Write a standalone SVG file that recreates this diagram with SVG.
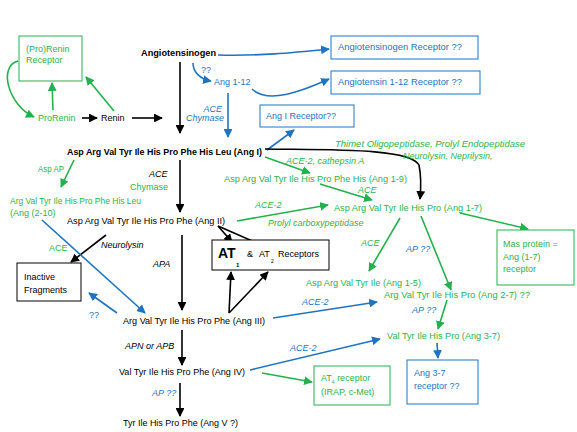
<svg xmlns="http://www.w3.org/2000/svg" width="577" height="432" viewBox="0 0 577 432">
<defs>
<marker id="ak" viewBox="0 0 10 10" refX="9" refY="5" markerWidth="5.5" markerHeight="5.5" orient="auto-start-reverse"><path d="M0,0 L10,5 L0,10 z" fill="#000"/></marker>
<marker id="ab" viewBox="0 0 10 10" refX="9" refY="5" markerWidth="5.5" markerHeight="5.5" orient="auto-start-reverse"><path d="M0,0 L10,5 L0,10 z" fill="#1f74c2"/></marker>
<marker id="ag" viewBox="0 0 10 10" refX="9" refY="5" markerWidth="5.5" markerHeight="5.5" orient="auto-start-reverse"><path d="M0,0 L10,5 L0,10 z" fill="#22b14c"/></marker>
</defs>
<style>
text{font-family:"Liberation Sans",Arial,sans-serif;font-size:9px}
.k{fill:#000}.b{fill:#1f74c2}.g{fill:#2db34a}
.i{font-style:italic}.bd{font-weight:bold}
.big{font-size:14px}.s6{font-size:6px}.s5{font-size:5px}
.lk{stroke:#000;stroke-width:1.6;fill:none;marker-end:url(#ak)}
.lb{stroke:#1f74c2;stroke-width:1.6;fill:none;marker-end:url(#ab)}
.lg{stroke:#22b14c;stroke-width:1.6;fill:none;marker-end:url(#ag)}
.bxk{fill:#fff;stroke:#000;stroke-width:1}
.bxb{fill:#fff;stroke:#1f74c2;stroke-width:1}
.bxg{fill:#fff;stroke:#22b14c;stroke-width:1}
</style>
<rect width="577" height="432" fill="#fff"/>

<g id="connectors">
<path class="lg" d="M18,61 C-2,66 8,105 34,117"/>
<path class="lg" d="M53,110 L52,83"/>
<path class="lg" d="M114,111 L86,77"/>
<path class="lk" d="M82,118 L97,118"/>
<path class="lk" d="M132,118 L162,118"/>
<path class="lk" d="M180,62 L180,133"/>
<path class="lb" d="M218,55 C260,56 290,53 329,49"/>
<path class="lb" d="M193,63 C193,72 200,79 211,81"/>
<path class="lb" d="M252,89 C268,104 300,92 329,79"/>
<path class="lb" d="M228,93 L228,137"/>
<path class="lb" d="M267,150 L294,130"/>
<path class="lk" d="M265,149 C330,150 410,148 419,165 C421,175 421,188 420,199"/>
<path class="lg" d="M265,157 L310,173"/>
<path class="lg" d="M320,184 L372,200"/>
<path class="lg" d="M237,221 L328,205"/>
<path class="lg" d="M460,213 L528,229"/>
<path class="lg" d="M400,218 L369,271"/>
<path class="lg" d="M421,216 L451,290"/>
<path class="lg" d="M447,300 L438,329"/>
<path class="lb" d="M437,343 L438,358"/>
<path class="lg" d="M262,373 L312,382"/>
<path class="lb" d="M250,370 L380,339"/>
<path class="lb" d="M273,318 L377,302"/>
<path class="lk" d="M180,160 L180,212"/>
<path class="lk" d="M182,235 L182,310"/>
<path class="lk" d="M106,235 L71,262"/>
<path class="lg" d="M74,160 L61,187"/>
<path class="lb" d="M42,220 L145,313"/>
<path class="lb" d="M117,313 L89,293"/>
<path class="lk" d="M218,226 L232,242"/>
<path class="lk" d="M218,226 L266,247"/>
<path class="lk" d="M229,313 L231,272"/>
<path class="lk" d="M229,313 L268,272"/>
<path class="lk" d="M182,330 L182,365"/>
<path class="lk" d="M180,383 L180,416"/>
</g>

<g id="prorenin-receptor"><rect class="bxg" x="19" y="36" width="63" height="45"/><text class="g" x="26" y="52">(Pro)Renin</text><text class="g" x="26" y="63">Receptor</text></g>
<g id="prorenin"><text class="g" x="38" y="121">ProRenin</text></g>
<g id="renin"><text class="k" x="101" y="121">Renin</text></g>
<g id="angiotensinogen"><text class="k bd" x="141" y="56" textLength="75" lengthAdjust="spacingAndGlyphs">Angiotensinogen</text></g>
<g id="aogen-receptor"><rect class="bxb" x="331" y="36" width="147" height="23"/><text class="b" x="338" y="50" textLength="124" lengthAdjust="spacingAndGlyphs">Angiotensinogen Receptor ??</text></g>
<g id="ang112"><text class="b" x="214" y="85">Ang 1-12</text></g>
<g id="ang112-receptor"><rect class="bxb" x="331" y="71" width="149" height="23"/><text class="b" x="338" y="85" textLength="124" lengthAdjust="spacingAndGlyphs">Angiotensin 1-12 Receptor ??</text></g>
<g id="angI-receptor"><rect class="bxb" x="260" y="105" width="94" height="22"/><text class="b" x="266" y="119">Ang I Receptor??</text></g>
<g id="angI"><text class="k bd" x="67" y="155" textLength="195" lengthAdjust="spacingAndGlyphs">Asp Arg Val Tyr Ile His Pro Phe  His Leu (Ang I)</text></g>
<g id="ang19"><text class="g" x="224" y="182" textLength="183" lengthAdjust="spacingAndGlyphs">Asp Arg Val Tyr Ile His Pro Phe His (Ang 1-9)</text></g>
<g id="ang17"><text class="g" x="334" y="211" textLength="148" lengthAdjust="spacingAndGlyphs">Asp Arg Val Tyr Ile His Pro (Ang 1-7)</text></g>
<g id="mas"><rect class="bxg" x="497" y="230" width="77" height="55"/><text class="g" x="503" y="247">Mas protein =</text><text class="g" x="503" y="260">Ang (1-7)</text><text class="g" x="503" y="272">receptor</text></g>
<g id="ang15"><text class="g" x="306" y="286" textLength="115" lengthAdjust="spacingAndGlyphs">Asp Arg Val Tyr Ile (Ang 1-5)</text></g>
<g id="ang27"><text class="g" x="384" y="298" textLength="146" lengthAdjust="spacingAndGlyphs">Arg Val Tyr Ile His Pro (Ang 2-7) ??</text></g>
<g id="ang37"><text class="g" x="387" y="339" textLength="113" lengthAdjust="spacingAndGlyphs">Val Tyr Ile His Pro (Ang 3-7)</text></g>
<g id="ang37-receptor"><rect class="bxb" x="407" y="360" width="71" height="44"/><text class="b" x="414" y="376">Ang 3-7</text><text class="b" x="414" y="389">receptor ??</text></g>
<g id="at4"><rect class="bxg" x="314" y="366" width="76" height="39"/><text class="g" x="321" y="381">AT<tspan class="s5" dy="3">4</tspan><tspan dy="-3"> receptor</tspan></text><text class="g" x="321" y="395">(IRAP, c-Met)</text></g>
<g id="angII"><text class="k" x="67" y="224" textLength="158" lengthAdjust="spacingAndGlyphs">Asp Arg Val Tyr Ile His Pro Phe (Ang II)</text></g>
<g id="ang210"><text class="g" x="10" y="204" textLength="131" lengthAdjust="spacingAndGlyphs">Arg Val Tyr Ile His Pro Phe His Leu</text><text class="g" x="10" y="216">(Ang (2-10)</text></g>
<g id="inactive"><rect class="bxk" x="17" y="263" width="64" height="38"/><text class="k" x="24" y="280">Inactive</text><text class="k" x="24" y="293">Fragments</text></g>
<g id="at-receptors"><rect class="bxk" x="212" y="240" width="117" height="30"/><text class="k bd big" x="218" y="258">AT</text><text class="k bd s6" x="236" y="267">1</text><text class="k" x="247" y="257">&amp;</text><text class="k" x="259" y="257">AT</text><text class="k s5" x="271" y="263">2</text><text class="k" x="278" y="257">Receptors</text></g>
<g id="angIII"><text class="k" x="123" y="324" textLength="142" lengthAdjust="spacingAndGlyphs">Arg Val Tyr Ile His Pro Phe (Ang III)</text></g>
<g id="angIV"><text class="k" x="119" y="375" textLength="126" lengthAdjust="spacingAndGlyphs">Val Tyr Ile His Pro Phe (Ang IV)</text></g>
<g id="angV"><text class="k" x="123" y="426" textLength="115" lengthAdjust="spacingAndGlyphs">Tyr Ile His Pro Phe (Ang V ?)</text></g>

<g id="labels">
<text class="b" x="201" y="73">??</text>
<text class="b i" x="222" y="112" text-anchor="end">ACE</text>
<text class="b i" x="186" y="121">Chymase</text>
<text class="g i" x="335" y="147" textLength="190" lengthAdjust="spacingAndGlyphs">Thimet Oligopeptidase, Prolyl Endopeptidase</text>
<text class="g i" x="403" y="159">Neurolysin, Neprilysin,</text>
<text class="g i" x="286" y="164">ACE-2, cathepsin A</text>
<text class="g i" x="358" y="193">ACE</text>
<text class="g i" x="255" y="208">ACE-2</text>
<text class="g i" x="268" y="226">Prolyl carboxypeptidase</text>
<text class="g i" x="361" y="246">ACE</text>
<text class="b i" x="406" y="252">AP ??</text>
<text class="b i" x="412" y="313">AP ??</text>
<text class="b i" x="302" y="305">ACE-2</text>
<text class="b i" x="290" y="351">ACE-2</text>
<text class="k i" x="149" y="177">ACE</text>
<text class="g" x="130" y="190">Chymase</text>
<text class="k i" x="153" y="267">APA</text>
<text class="k i" x="101" y="248">Neurolysin</text>
<text class="g" x="38" y="172" textLength="26" lengthAdjust="spacingAndGlyphs">Asp AP</text>
<text class="g" x="49" y="251">ACE</text>
<text class="b" x="89" y="318">??</text>
<text class="k i" x="125" y="349">APN or APB</text>
<text class="b i" x="152" y="396">AP ??</text>
</g>
</svg>
